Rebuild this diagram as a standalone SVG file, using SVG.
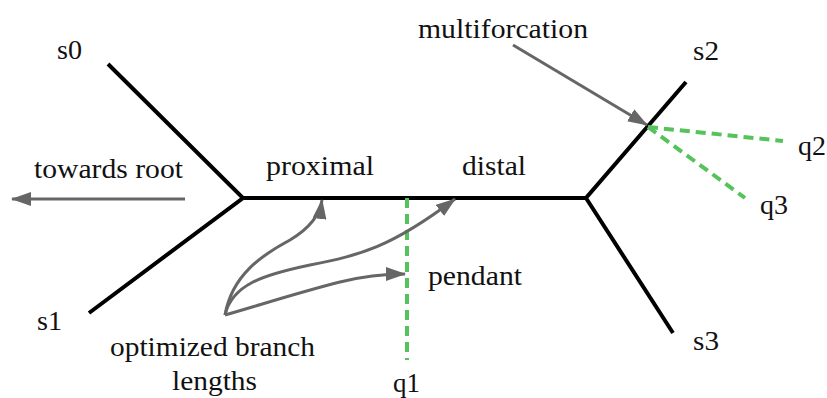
<svg xmlns="http://www.w3.org/2000/svg" width="827" height="398" viewBox="0 0 827 398">
  <style>
    .branch { stroke: #000; stroke-width: 4; fill: none; stroke-linecap: butt; stroke-linejoin: miter; }
    .query { stroke: #55c35a; stroke-width: 4; fill: none; stroke-dasharray: 10 6; }
    .pointer { stroke: #666; stroke-width: 3; fill: none; }
    text { font-family: "Liberation Serif", "Times New Roman", serif; font-size: 27px; fill: #111; }
  </style>
  <defs>
    <marker id="head" viewBox="0 0 20 14" refX="19" refY="7" markerWidth="20" markerHeight="14" markerUnits="userSpaceOnUse" orient="auto">
      <path d="M0,0 L20,7 L0,14 Z" fill="#666"/>
    </marker>
  </defs>

  <!-- tree branches -->
  <g id="tree">
    <polyline class="branch" points="108,64 243,198 89,313"/>
    <line class="branch" x1="241" y1="198" x2="588" y2="198"/>
    <polyline class="branch" points="686,82 586,198 673,333"/>
  </g>

  <!-- query placements (pendant edges) -->
  <g id="queries">
    <line class="query" x1="407" y1="198" x2="407" y2="360"/>
    <line class="query" x1="648" y1="127" x2="783" y2="141"/>
    <line class="query" x1="648" y1="127" x2="745" y2="198"/>
  </g>

  <!-- annotation arrows -->
  <g id="connectors">
    <line class="pointer" x1="185" y1="199" x2="12" y2="199" marker-end="url(#head)"/>
    <line class="pointer" x1="513" y1="45" x2="647" y2="125" marker-end="url(#head)"/>
    <path class="pointer" d="M225,315 C232,275 262,255 290,240 C310,228 320,215 322,200" marker-end="url(#head)"/>
    <path class="pointer" d="M225,315 C232,285 262,275 310,265 C360,255 390,248 455,199" marker-end="url(#head)"/>
    <path class="pointer" d="M225,315 C260,305 300,292 340,282 C360,277 380,274 405,274" marker-end="url(#head)"/>
  </g>

  <!-- labels -->
  <g id="labels">
    <text x="57" y="59" textLength="25" lengthAdjust="spacingAndGlyphs">s0</text>
    <text x="37" y="330" textLength="25" lengthAdjust="spacingAndGlyphs">s1</text>
    <text x="693" y="60" textLength="26" lengthAdjust="spacingAndGlyphs">s2</text>
    <text x="693" y="350" textLength="26" lengthAdjust="spacingAndGlyphs">s3</text>
    <text x="393" y="392" textLength="27" lengthAdjust="spacingAndGlyphs">q1</text>
    <text x="798" y="155" textLength="28" lengthAdjust="spacingAndGlyphs">q2</text>
    <text x="760" y="214" textLength="28" lengthAdjust="spacingAndGlyphs">q3</text>
    <text x="34" y="178" textLength="149" lengthAdjust="spacingAndGlyphs">towards root</text>
    <text x="266" y="175" textLength="108" lengthAdjust="spacingAndGlyphs">proximal</text>
    <text x="462" y="175" textLength="64" lengthAdjust="spacingAndGlyphs">distal</text>
    <text x="428" y="285" textLength="94" lengthAdjust="spacingAndGlyphs">pendant</text>
    <text x="418" y="38" textLength="170" lengthAdjust="spacingAndGlyphs">multiforcation</text>
    <text x="110" y="356" textLength="205" lengthAdjust="spacingAndGlyphs">optimized branch</text>
    <text x="172" y="390" textLength="85" lengthAdjust="spacingAndGlyphs">lengths</text>
  </g>
</svg>
